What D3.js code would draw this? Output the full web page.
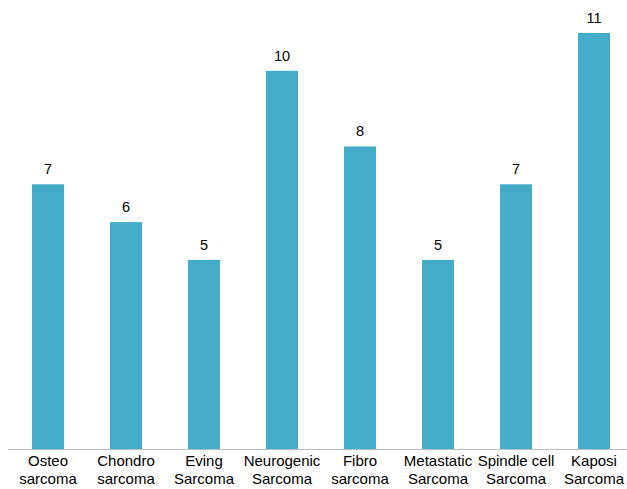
<!DOCTYPE html>
<html>
<head>
<script src="https://cdn.jsdelivr.net/npm/d3@7"></script>
<style>
body{ margin:0; background:#fff; }
svg{ display:block; font-family:"Liberation Sans", Arial, sans-serif; }
</style>
</head>
<body>
<script>
// data
var categories = [
  ["Osteo", "sarcoma"],
  ["Chondro", "sarcoma"],
  ["Eving", "Sarcoma"],
  ["Neurogenic", "Sarcoma"],
  ["Fibro", "sarcoma"],
  ["Metastatic", "Sarcoma"],
  ["Spindle cell", "Sarcoma"],
  ["Kaposi", "Sarcoma"]
];
var values = [7, 6, 5, 10, 8, 5, 7, 11];

var width = 627, height = 489;
var baseY = 449;

var svg = d3.select("body").append("svg")
  .attr("width", width)
  .attr("height", height);

var keys = categories.map(function(c){ return c.join(" "); });

var x = d3.scaleBand()
  .domain(keys)
  .range([9, 633])
  .paddingInner(0.59)
  .paddingOuter(0.295);

var y = d3.scaleLinear()
  .domain([0, 11])
  .range([baseY, 33]);

svg.selectAll("rect.bar")
  .data(values)
  .enter()
  .append("rect")
  .attr("class", "bar")
  .attr("x", function(d, i){ return x(keys[i]); })
  .attr("y", function(d){ return y(d); })
  .attr("width", x.bandwidth())
  .attr("height", function(d){ return baseY - y(d); })
  .attr("fill", "#43acc8");

svg.selectAll("text.val")
  .data(values)
  .enter()
  .append("text")
  .attr("class", "val")
  .attr("x", function(d, i){ return x(keys[i]) + x.bandwidth() / 2; })
  .attr("y", function(d){ return y(d) - 10; })
  .attr("text-anchor", "middle")
  .attr("font-size", 14.5)
  .attr("fill", "#000")
  .text(function(d){ return d; });

// baseline
svg.append("line")
  .attr("x1", 8).attr("x2", width)
  .attr("y1", baseY + 0.5).attr("y2", baseY + 0.5)
  .attr("stroke", "#bfbfbf")
  .attr("stroke-width", 1);

var lab = svg.selectAll("text.cat")
  .data(categories)
  .enter()
  .append("text")
  .attr("class", "cat")
  .attr("text-anchor", "middle")
  .attr("font-size", 15)
  .attr("fill", "#000");

lab.each(function(c, i){
  var t = d3.select(this);
  c.forEach(function(line, j){
    t.append("tspan")
      .attr("x", x(keys[i]) + x.bandwidth() / 2)
      .attr("y", 466 + j * 17.5)
      .text(line);
  });
});
</script>
</body>
</html>
